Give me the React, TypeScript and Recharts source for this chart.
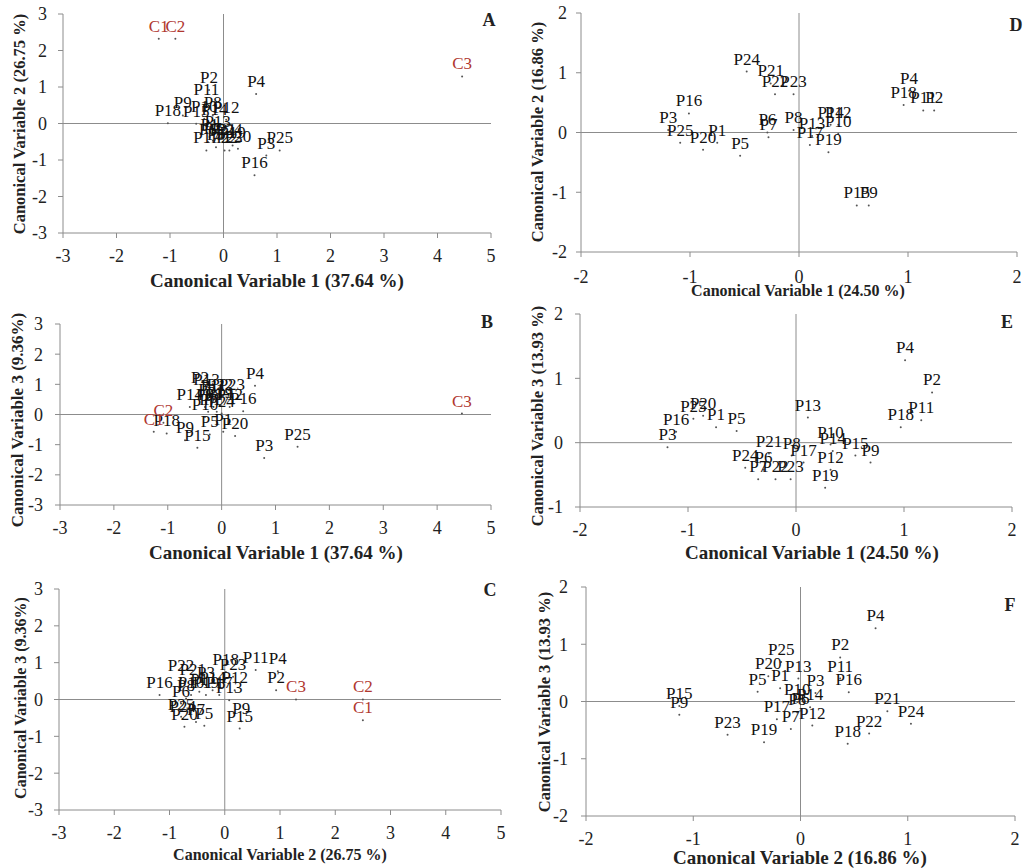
import { ScatterChart, Scatter, XAxis, YAxis, ReferenceLine, LabelList } from 'recharts';

const FONT = "'Liberation Serif', 'Times New Roman', serif";
const GRID = '#8c8c8c';

const pNames = ['P1', 'P2', 'P3', 'P4', 'P5', 'P6', 'P7', 'P8', 'P9', 'P10', 'P11', 'P12', 'P13',
  'P14', 'P15', 'P16', 'P17', 'P18', 'P19', 'P20', 'P21', 'P22', 'P23', 'P24', 'P25'];
const cNames = ['C1', 'C2', 'C3'];

const ticksWide = [-3, -2, -1, 0, 1, 2, 3, 4, 5];
const ticksTall = [-3, -2, -1, 0, 1, 2, 3];
const ticksNarrow = [-2, -1, 0, 1, 2];
const ticksE = [-1, 0, 1, 2];

// A: canonical variable 1 vs 2 (first analysis)
const aPx = [-0.26, -0.27, 0.8, 0.61, -0.14, -0.29, -0.2, -0.2, -0.76, -0.36, -0.32, 0.05, -0.11,
  -0.17, -0.51, 0.58, -0.32, -1.04, 0.17, 0.27, -0.01, 0.02, 0.11, 0.11, 1.05];
const aPy = [-0.37, 0.92, -0.88, 0.81, -0.65, -0.51, -0.47, 0.22, 0.22, 0.13, 0.58, 0.1, -0.28,
  0.04, -0.01, -1.42, -0.74, 0.01, -0.6, -0.69, -0.51, -0.74, -0.74, -0.51, -0.74];
const aCx = [-1.21, -0.9, 4.46];
const aCy = [2.32, 2.32, 1.29];

// B: canonical variable 1 vs 3
const bPx = [0.03, -0.4, 0.79, 0.62, -0.22, -0.31, -0.25, -0.15, -0.68, -0.31, -0.15, 0.15, -0.28,
  -0.59, -0.45, 0.4, -0.09, -1.02, -0.03, 0.25, -0.19, -0.03, 0.19, 0.0, 1.41];
const bPy = [-0.57, 0.81, -1.44, 0.95, -0.66, 0.25, 0.09, 0.25, -0.85, -0.08, 0.53, 0.25, 0.75,
  0.25, -1.1, 0.11, 0.09, -0.63, 0.31, -0.71, 0.42, 0.59, 0.59, 0.03, -1.07];
const bCx = [-1.26, -1.08, 4.46];
const bCy = [-0.57, -0.27, 0.03];

// C: canonical variable 2 vs 3
const cPx = [-0.46, 0.93, -0.34, 0.96, -0.37, -0.79, -0.52, -0.7, 0.3, -0.61, 0.56, 0.18, 0.08,
  -0.22, 0.27, -1.18, -0.1, 0.02, -0.34, -0.73, -0.58, -0.79, 0.15, -0.76, -0.79];
const cPy = [0.21, 0.25, 0.39, 0.77, -0.71, -0.11, -0.61, 0.03, -0.59, 0.12, 0.8, 0.25, -0.02,
  0.25, -0.79, 0.12, 0.12, 0.75, 0.12, -0.74, 0.48, 0.57, 0.62, -0.53, -0.47];
const cCx = [2.5, 2.5, 1.29];
const cCy = [-0.56, 0.0, 0.0];

// D: canonical variable 1 vs 2 (second analysis)
const dPx = [-0.75, 1.24, -1.2, 1.01, -0.54, -0.29, -0.28, -0.05, 0.64, 0.36, 1.14, 0.36, 0.12,
  0.29, 0.53, -1.01, 0.1, 0.96, 0.27, -0.88, -0.26, -0.22, -0.05, -0.48, -1.09];
const dPy = [-0.17, 0.37, 0.04, 0.7, -0.39, 0.0, -0.08, 0.04, -1.22, -0.02, 0.37, 0.13, -0.06,
  0.13, -1.22, 0.32, -0.21, 0.46, -0.33, -0.29, 0.82, 0.64, 0.64, 1.02, -0.17];

// E: canonical variable 1 vs 3
const ePx = [-0.74, 1.26, -1.19, 1.01, -0.55, -0.3, -0.35, -0.04, 0.69, 0.32, 1.16, 0.32, 0.11,
  0.34, 0.55, -1.11, 0.07, 0.97, 0.27, -0.86, -0.25, -0.19, -0.05, -0.47, -0.95];
const ePy = [0.24, 0.78, -0.07, 1.28, 0.18, -0.42, -0.57, -0.2, -0.31, -0.03, 0.35, -0.42, 0.39,
  -0.13, -0.2, 0.17, -0.31, 0.24, -0.7, 0.42, -0.17, -0.57, -0.57, -0.39, 0.37];

// F: canonical variable 2 vs 3
const fPx = [-0.19, 0.37, 0.14, 0.7, -0.4, 0.0, -0.09, -0.03, -1.13, -0.03, 0.37, 0.11, -0.02,
  0.09, -1.13, 0.45, -0.22, 0.44, -0.34, -0.3, 0.81, 0.64, -0.68, 1.03, -0.18];
const fPy = [0.23, 0.77, 0.15, 1.28, 0.17, -0.16, -0.48, -0.19, -0.23, -0.01, 0.4, -0.42, 0.4,
  -0.1, -0.08, 0.16, -0.31, -0.74, -0.71, 0.44, -0.17, -0.56, -0.58, -0.39, 0.69];

const toRows = (names: string[], xs: number[], ys: number[]) =>
  names.map((name, i) => ({ name, x: xs[i], y: ys[i] }));

// tiny dot, like the original markers
const Dot = (props: any) => <circle cx={props.cx} cy={props.cy} r={1} fill="#555" />;

type PanelProps = {
  box: number[]; // left, top, width, height
  plot: number[]; // x1, y1, x2, y2
  xDomain: number[];
  xTicks: number[];
  yDomain: number[];
  yTicks: number[];
  xTickGap: number;
  yTickGap: number;
  points: { name: string; x: number; y: number }[];
  centers?: { name: string; x: number; y: number }[];
};

function Panel({ box, plot, xDomain, xTicks, yDomain, yTicks, xTickGap, yTickGap, points, centers }: PanelProps) {
  const [left, top, w, h] = box;
  const [x1, y1, x2, y2] = plot;
  const tick = { fill: '#222', fontSize: 18, fontFamily: FONT };
  const labelStyle = { fontSize: 17, fontFamily: FONT };
  return (
    <div style={{ position: 'absolute', left, top, width: w, height: h }}>
      <ScatterChart width={w} height={h} margin={{ top: y1 - top, right: left + w - x2, bottom: 0, left: 0 }}>
        <XAxis type="number" dataKey="x" domain={xDomain} ticks={xTicks} interval={0} allowDataOverflow
          height={top + h - y2} axisLine={{ stroke: GRID }} tickLine={{ stroke: GRID }}
          tickSize={5} tickMargin={xTickGap} tick={tick} />
        <YAxis type="number" dataKey="y" domain={yDomain} ticks={yTicks} interval={0} allowDataOverflow
          width={x1 - left} axisLine={{ stroke: GRID }} tickLine={{ stroke: GRID }}
          tickSize={5} tickMargin={yTickGap} tick={tick} />
        <ReferenceLine x={0} stroke={GRID} />
        <ReferenceLine y={0} stroke={GRID} />
        <Scatter data={points} shape={Dot} isAnimationActive={false}>
          <LabelList dataKey="name" position="top" offset={2.5} style={{ ...labelStyle, fill: '#111' }} />
        </Scatter>
        {centers && (
          <Scatter data={centers} shape={Dot} isAnimationActive={false}>
            <LabelList dataKey="name" position="top" offset={2.5} style={{ ...labelStyle, fill: '#b0372f' }} />
          </Scatter>
        )}
      </ScatterChart>
    </div>
  );
}

function Title({ text, x, y, size, vertical }: { text: string; x: number; y: number; size: number; vertical?: boolean }) {
  return (
    <div style={{
      position: 'absolute', left: x, top: y, whiteSpace: 'nowrap',
      transform: `translate(-50%, -50%)${vertical ? ' rotate(-90deg)' : ''}`,
      fontFamily: FONT, fontWeight: 'bold', fontSize: size, color: '#222', lineHeight: 1,
    }}>{text}</div>
  );
}

export default function App() {
  return (
    <div style={{ position: 'absolute', left: 0, top: 0, width: 1023, height: 868, background: '#fff', overflow: 'hidden' }}>
      <Panel box={[0, 0, 510, 290]} plot={[63, 14, 491, 233]} xDomain={[-3, 5]} xTicks={ticksWide}
        yDomain={[-3, 3]} yTicks={ticksTall} xTickGap={11} yTickGap={11}
        points={toRows(pNames, aPx, aPy)} centers={toRows(cNames, aCx, aCy)} />
      <Panel box={[510, 0, 513, 290]} plot={[581, 13, 1017, 252]} xDomain={[-2, 2]} xTicks={ticksNarrow}
        yDomain={[-2, 2]} yTicks={ticksNarrow} xTickGap={13} yTickGap={9}
        points={toRows(pNames, dPx, dPy)} />
      <Panel box={[0, 290, 510, 285]} plot={[60, 324, 491, 505]} xDomain={[-3, 5]} xTicks={ticksWide}
        yDomain={[-3, 3]} yTicks={ticksTall} xTickGap={11} yTickGap={12}
        points={toRows(pNames, bPx, bPy)} centers={toRows(cNames, bCx, bCy)} />
      <Panel box={[510, 290, 513, 285]} plot={[580, 314, 1012, 507]} xDomain={[-2, 2]} xTicks={ticksNarrow}
        yDomain={[-1, 2]} yTicks={ticksE} xTickGap={11} yTickGap={12}
        points={toRows(pNames, ePx, ePy)} />
      <Panel box={[0, 575, 510, 293]} plot={[59, 589, 501, 810]} xDomain={[-3, 5]} xTicks={ticksWide}
        yDomain={[-3, 3]} yTicks={ticksTall} xTickGap={11} yTickGap={11}
        points={toRows(pNames, cPx, cPy)} centers={toRows(cNames, cCx, cCy)} />
      <Panel box={[510, 575, 513, 293]} plot={[586, 587, 1015, 816]} xDomain={[-2, 2]} xTicks={ticksNarrow}
        yDomain={[-2, 2]} yTicks={ticksNarrow} xTickGap={11} yTickGap={13}
        points={toRows(pNames, fPx, fPy)} />

      <Title text="Canonical Variable 1 (37.64 %)" x={277} y={280} size={19} />
      <Title text="Canonical Variable 2 (26.75 %)" x={20} y={124} size={16.5} vertical />
      <Title text="A" x={489} y={20} size={18} />

      <Title text="Canonical Variable 1 (24.50 %)" x={798} y={291} size={16} />
      <Title text="Canonical Variable 2 (16.86 %)" x={538} y={132} size={16.5} vertical />
      <Title text="D" x={1016} y={25} size={18} />

      <Title text="Canonical Variable 1 (37.64 %)" x={276} y={552} size={19} />
      <Title text="Canonical Variable 3 (9.36%)" x={17} y={420} size={17} vertical />
      <Title text="B" x={487} y={322} size={18} />

      <Title text="Canonical Variable 1 (24.50 %)" x={812} y={552} size={19} />
      <Title text="Canonical Variable 3 (13.93 %)" x={538} y={416} size={16.5} vertical />
      <Title text="E" x={1007} y={322} size={18} />

      <Title text="Canonical Variable 2 (26.75 %)" x={280} y={855} size={16} />
      <Title text="Canonical Variable 3 (9.36%)" x={21} y={698} size={16} vertical />
      <Title text="C" x={490} y={590} size={18} />

      <Title text="Canonical Variable 2 (16.86 %)" x={800} y={857} size={19} />
      <Title text="Canonical Variable 3 (13.93 %)" x={545} y={702} size={16.5} vertical />
      <Title text="F" x={1010} y={605} size={18} />
    </div>
  );
}
